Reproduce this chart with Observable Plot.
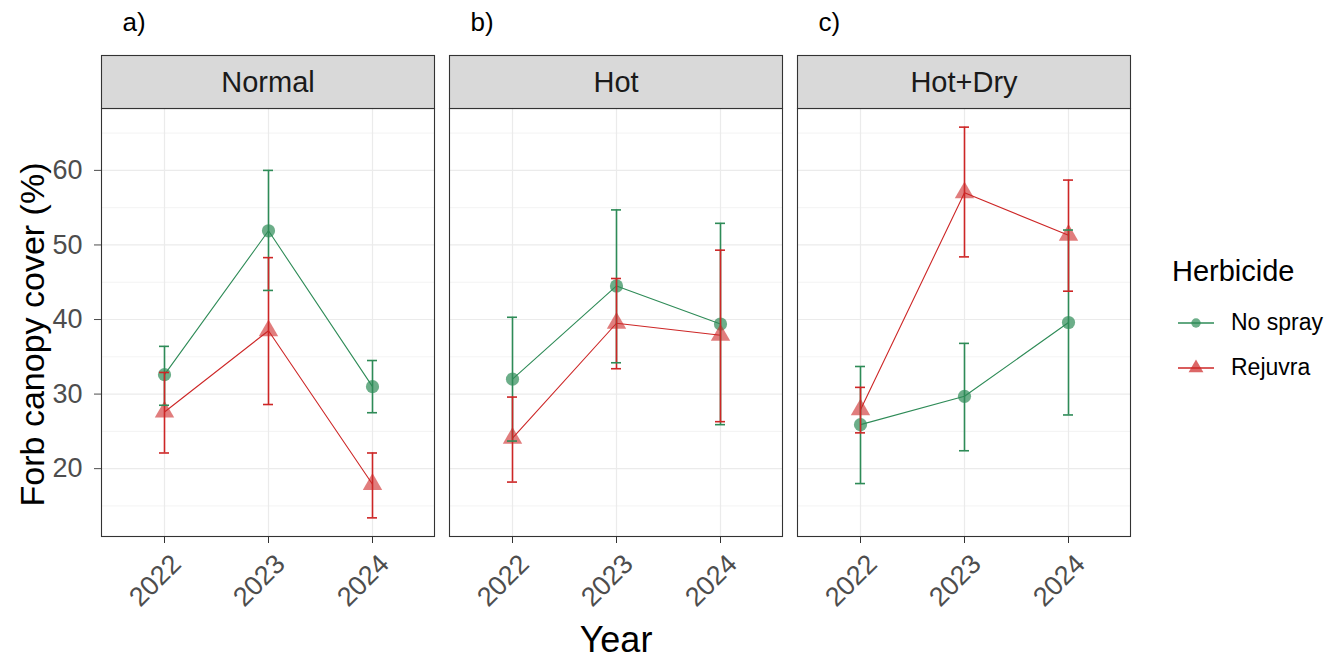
<!DOCTYPE html>
<html>
<head>
<meta charset="utf-8">
<script src="https://cdn.jsdelivr.net/npm/d3@7"></script>
<script src="https://cdn.jsdelivr.net/npm/@observablehq/plot@0.6"></script>
<style>
  body { margin: 0; background: #fff; font-family: "Liberation Sans", Arial, sans-serif; }
  #fig { position: relative; width: 1340px; height: 661px; }
  #legend { position: absolute; left: 1172px; top: 253px; color: #000; }
  #legend .title { font-size: 29px; line-height: 36px; margin-bottom: 11px; }
  #legend .item { display: flex; align-items: center; height: 45px; font-size: 23px; }
  #legend svg { margin-left: 5px; margin-right: 16px; }
</style>
</head>
<body>
<div id="fig"></div>
<script>
// Facets, categories and ticks
const years = ["2022", "2023", "2024"];
const treatments = ["Normal", "Hot", "Hot+Dry"];
const panelTags = ["a)", "b)", "c)"];
const herbicides = ["No spray", "Rejuvra"];
const herbicideColors = ["#2E8B57", "#CD2626"];
const herbicideSymbols = ["circle", "triangle"];
const yTicks = [20, 30, 40, 50, 60];
const yMinorTicks = [15, 25, 35, 45, 55, 65];

// Forb canopy cover (%): rows are Normal, Hot, Hot+Dry; columns are 2022, 2023, 2024
const noSprayMean = [[32.6, 51.9, 31.0], [32.0, 44.5, 39.4], [25.9, 29.7, 39.6]];
const noSprayLow  = [[28.5, 43.9, 27.5], [23.7, 34.2, 25.9], [18.0, 22.4, 27.2]];
const noSprayHigh = [[36.4, 60.0, 34.5], [40.3, 54.7, 52.9], [33.7, 36.8, 52.0]];
const rejuvraMean = [[27.6, 38.5, 17.9], [24.1, 39.5, 37.9], [27.9, 57.0, 51.3]];
const rejuvraLow  = [[22.1, 28.6, 13.4], [18.2, 33.4, 26.3], [24.8, 48.4, 43.8]];
const rejuvraHigh = [[32.9, 48.3, 22.1], [29.6, 45.5, 49.3], [30.9, 65.8, 58.7]];

const series = [
  {herbicide: herbicides[0], mean: noSprayMean, low: noSprayLow, high: noSprayHigh},
  {herbicide: herbicides[1], mean: rejuvraMean, low: rejuvraLow, high: rejuvraHigh}
];

const rows = [];
treatments.forEach((treatment, ti) => {
  series.forEach(s => {
    years.forEach((year, yi) => {
      rows.push({
        treatment, year, herbicide: s.herbicide,
        mean: s.mean[ti][yi], low: s.low[ti][yi], high: s.high[ti][yi]
      });
    });
  });
});

const font = '"Liberation Sans", Arial, sans-serif';
const gridColor = "#ebebeb";
const stripHeight = 53;

// Grey facet header drawn just above each panel frame
function stripBackground() {
  return Plot.frame({
    fill: "#d9d9d9", stroke: "#333333", strokeWidth: 1.1,
    render(index, scales, values, dimensions, context, next) {
      const el = next(index, scales, values, dimensions, context);
      const rect = el.tagName.toLowerCase() === "rect" ? el : el.querySelector("rect");
      rect.setAttribute("y", dimensions.marginTop - stripHeight);
      rect.setAttribute("height", stripHeight);
      return el;
    }
  });
}

const errorStyle = {fx: "treatment", stroke: "herbicide", strokeWidth: 1.6};

const chart = Plot.plot({
  width: 1340,
  height: 661,
  marginLeft: 101,
  marginRight: 209,
  marginTop: 108,
  marginBottom: 125,
  style: {fontFamily: font, background: "#fff", overflow: "visible"},
  fx: {domain: treatments, paddingInner: 0.042, paddingOuter: 0, axis: null, label: null},
  x: {type: "point", domain: years, padding: 0.6, label: null},
  y: {domain: [10.9, 68.3], label: null},
  color: {domain: herbicides, range: herbicideColors},
  symbol: {domain: herbicides, range: herbicideSymbols},
  marks: [
    Plot.gridY(yMinorTicks, {stroke: gridColor, strokeOpacity: 1, strokeWidth: 0.6}),
    Plot.gridY(yTicks, {stroke: gridColor, strokeOpacity: 1, strokeWidth: 1.2}),
    Plot.gridX(years, {stroke: gridColor, strokeOpacity: 1, strokeWidth: 1.2}),
    Plot.dot(rows, {
      filter: d => d.herbicide === herbicides[0],
      fx: "treatment", x: "year", y: "mean", fill: "herbicide", symbol: "herbicide",
      r: 6.6, fillOpacity: 0.7
    }),
    Plot.dot(rows, {
      filter: d => d.herbicide === herbicides[1],
      fx: "treatment", x: "year", y: "mean", fill: "herbicide", symbol: "herbicide",
      r: 7.2, fillOpacity: 0.6
    }),
    Plot.line(rows, {fx: "treatment", x: "year", y: "mean", z: "herbicide", stroke: "herbicide", strokeWidth: 1.1}),
    Plot.ruleX(rows, {...errorStyle, x: "year", y1: "low", y2: "high"}),
    Plot.ruleY(rows, {...errorStyle, x1: "year", x2: "year", y: "low", inset: -5}),
    Plot.ruleY(rows, {...errorStyle, x1: "year", x2: "year", y: "high", inset: -5}),
    Plot.frame({stroke: "#333333", strokeWidth: 1.1}),
    stripBackground(),
    Plot.text(treatments, {
      fx: d => d, text: d => d, frameAnchor: "top", lineAnchor: "middle", dy: -26,
      fontSize: 29, fill: "#1a1a1a"
    }),
    Plot.text(treatments, {
      fx: d => d, text: (d, i) => panelTags[i], frameAnchor: "top-left", lineAnchor: "middle",
      textAnchor: "start", dx: 21, dy: -86, fontSize: 26, fill: "#000"
    }),
    Plot.axisY(yTicks, {
      anchor: "left", tickSize: 7, tickPadding: 12, fontSize: 27,
      color: "#4d4d4d", label: null
    }),
    // tick marks only
    Plot.axisX(years, {
      tickSize: 7, tickFormat: () => "", stroke: "#333333", label: null
    }),
    // rotated year labels only
    Plot.axisX(years, {
      tickRotate: -45, tickSize: 0, tickPadding: 11, fontSize: 27, dx: 12, dy: 12,
      fill: "#4d4d4d", label: null
    }),
    Plot.text(["Forb canopy cover (%)"], {
      fx: () => treatments[0], text: d => d, frameAnchor: "left", textAnchor: "middle",
      lineAnchor: "middle", rotate: -90, dx: -68, dy: 12, fontSize: 34, fill: "#000"
    }),
    Plot.text(["Year"], {
      fx: () => treatments[1], text: d => d, frameAnchor: "bottom", lineAnchor: "middle",
      dy: 104, fontSize: 36, fill: "#000"
    })
  ]
});

const fig = document.getElementById("fig");
fig.appendChild(chart);

// Legend for the herbicide treatments
const legend = document.createElement("div");
legend.id = "legend";
const legendTitle = document.createElement("div");
legendTitle.className = "title";
legendTitle.textContent = "Herbicide";
legend.appendChild(legendTitle);
herbicides.forEach((name, i) => {
  const item = document.createElement("div");
  item.className = "item";
  const key = d3.create("svg").attr("width", 38).attr("height", 24);
  key.append("line").attr("x1", 1).attr("x2", 37).attr("y1", 12).attr("y2", 12)
    .attr("stroke", herbicideColors[i]).attr("stroke-width", 1.4);
  const sym = i === 0 ? d3.symbolCircle : d3.symbolTriangle;
  key.append("path")
    .attr("transform", "translate(19,12)")
    .attr("d", d3.symbol(sym, i === 0 ? 70 : 95)())
    .attr("fill", herbicideColors[i]).attr("fill-opacity", 0.7);
  item.appendChild(key.node());
  const label = document.createElement("span");
  label.textContent = name;
  item.appendChild(label);
  legend.appendChild(item);
});
fig.appendChild(legend);
</script>
</body>
</html>
